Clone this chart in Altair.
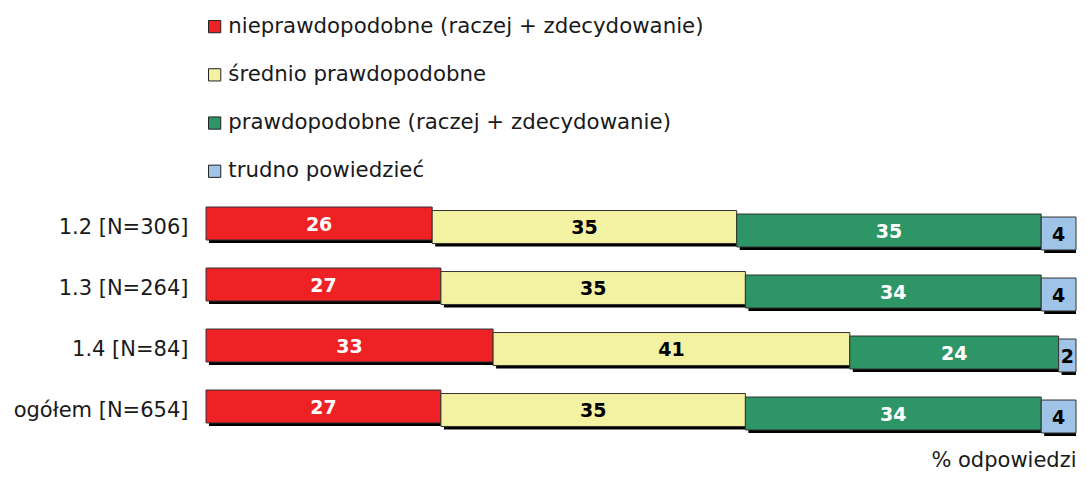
import altair as alt
import pandas as pd

rows = ["1.2 [N=306]", "1.3 [N=264]", "1.4 [N=84]", "ogółem [N=654]"]
series = [
    "nieprawdopodobne (raczej + zdecydowanie)",
    "średnio prawdopodobne",
    "prawdopodobne (raczej + zdecydowanie)",
    "trudno powiedzieć",
]
nieprawdopodobne = [26, 27, 33, 27]
srednio = [35, 35, 41, 35]
prawdopodobne = [35, 34, 24, 34]
trudno = [4, 4, 2, 4]

colors = ["#EE2124", "#F3F1A2", "#2E9666", "#A0C3E8"]
text_colors = ["white", "black", "white", "black"]
steps = [0, 3.5, 7, 10]

values = [nieprawdopodobne, srednio, prawdopodobne, trudno]
recs = []
for r_i, r in enumerate(rows):
    start = 0
    for s_i, s in enumerate(series):
        v = values[s_i][r_i]
        recs.append({"row": r, "series": s, "value": v, "start": start, "end": start + v,
                     "mid": start + v / 2})
        start += v
df = pd.DataFrame(recs)

FONT = "DejaVu Sans"
base = alt.Chart(df)
y_enc = alt.Y("row:N", sort=rows,
              scale=alt.Scale(paddingInner=0.46, paddingOuter=0.23),
              axis=alt.Axis(title=None, ticks=False, domain=False, labelFontSize=21,
                            labelFont=FONT, labelColor="#1a1a1a", labelPadding=18,
                            labelOffset=4, labelLimit=300))
x_scale = alt.Scale(domain=[0, 100], nice=False, zero=True)

layers = []
for i, s in enumerate(series):
    layers.append(
        base.transform_filter(alt.datum.series == s)
        .mark_bar(color="black", xOffset=3, yOffset=steps[i] + 3)
        .encode(x=alt.X("start:Q", scale=x_scale,
                        axis=alt.Axis(title="% odpowiedzi", labels=False, ticks=False,
                                      domain=False, grid=False, titleAnchor="end",
                                      titleFontSize=21, titleFont=FONT,
                                      titleFontWeight="normal", titleColor="#1a1a1a",
                                      titlePadding=12)),
                x2="end:Q", y=y_enc)
    )
for i, s in enumerate(series):
    layers.append(
        base.transform_filter(alt.datum.series == s)
        .mark_bar(stroke="#333333", strokeWidth=1, yOffset=steps[i], opacity=1)
        .encode(x=alt.X("start:Q", scale=x_scale), x2="end:Q", y=y_enc,
                color=alt.Color("series:N",
                                scale=alt.Scale(domain=series, range=colors),
                                legend=alt.Legend(title=None, orient="none",
                                                  legendX=-2, legendY=-177,
                                                  labelFontSize=21.3, labelFont=FONT,
                                                  labelColor="#1a1a1a",
                                                  symbolType="square", symbolSize=150,
                                                  symbolStrokeColor="#222",
                                                  symbolStrokeWidth=1,
                                                  symbolOpacity=1,
                                                  rowPadding=26.2, labelOffset=3,
                                                  padding=0, labelLimit=600)))
    )
for i, s in enumerate(series):
    layers.append(
        base.transform_filter(alt.datum.series == s)
        .mark_text(fontSize=19, fontWeight="bold", font=FONT, color=text_colors[i],
                   yOffset=steps[i] + 1)
        .encode(x=alt.X("mid:Q", scale=x_scale), y=y_enc, text="value:Q")
    )

chart = (
    alt.layer(*layers)
    .properties(
        width=870, height=244,
        autosize=alt.AutoSizeParams(type="none"),
        padding={"left": 198, "top": 185, "right": 3, "bottom": 34},
    )
    .configure(background="white")
    .configure_view(stroke=None)
    .configure_axis(grid=False)
)

chart.save("out.html", embed_options={"renderer": "svg", "actions": False})
